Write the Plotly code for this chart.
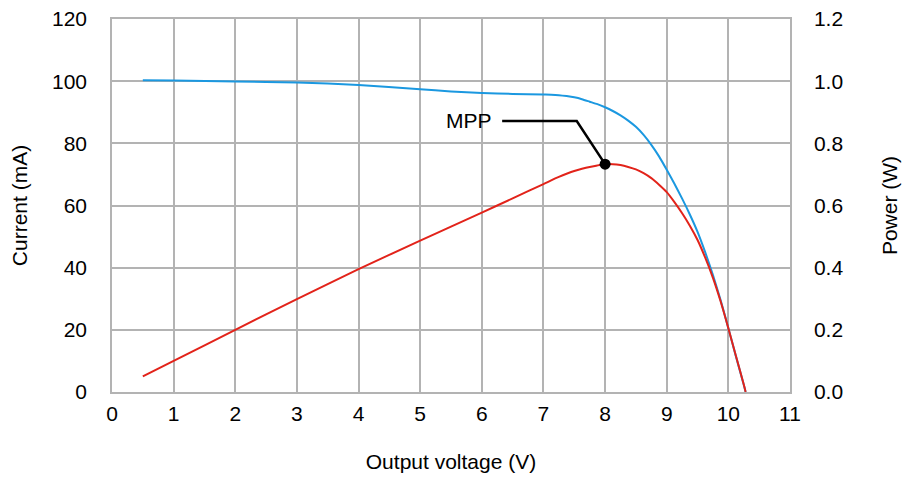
import plotly.graph_objects as go

voltage_v = [0.5, 1, 2, 3, 4, 5, 5.5, 6, 6.5, 7.0, 7.125, 7.25, 7.375, 7.5, 7.625, 7.75, 7.875,
             8.0, 8.125, 8.25, 8.375, 8.5, 8.625, 8.75, 8.875, 9.0, 9.125, 9.25, 9.375,
             9.5, 9.625, 9.75, 9.875, 10.0, 10.125, 10.25, 10.28]
current_ma = [100.3, 100.2, 99.9, 99.6, 98.8, 97.4, 96.7, 96.2, 95.9, 95.7, 95.65, 95.5, 95.2, 94.8, 94.2, 93.4, 92.6,
              91.6, 90.4, 89.0, 87.3, 85.3, 82.7, 79.5, 75.8, 71.5, 67.0, 62.2, 57.1,
              51.5, 44.9, 37.6, 29.5, 20.5, 11.3, 2.3, 0.0]
power_w = [0.050, 0.100, 0.200, 0.299, 0.395, 0.487, 0.532, 0.577, 0.623, 0.669, 0.681, 0.692, 0.702, 0.711, 0.718, 0.724, 0.729,
           0.733, 0.733, 0.730, 0.724, 0.716, 0.704, 0.688, 0.667, 0.643, 0.611, 0.575, 0.535,
           0.489, 0.432, 0.367, 0.291, 0.205, 0.114, 0.024, 0.0]

mpp_v = 8.0
mpp_p = 0.733
mpp_label = "MPP"
label_elbow = [(6.33, 0.872), (7.54, 0.872)]

x_ticks = list(range(0, 12))
y_ticks = [0, 20, 40, 60, 80, 100, 120]
y2_ticks = [0.0, 0.2, 0.4, 0.6, 0.8, 1.0, 1.2]

FONT = "Liberation Sans, Arial, sans-serif"
FS = 21
GRID = "#b3b3b3"

fig = go.Figure()
fig.add_trace(go.Scatter(x=voltage_v, y=current_ma, mode="lines",
                         line=dict(color="#1b98e0", width=2, shape="spline", smoothing=0.6),
                         yaxis="y", showlegend=False))
fig.add_trace(go.Scatter(x=voltage_v, y=power_w, mode="lines",
                         line=dict(color="#e2231a", width=2, shape="spline", smoothing=0.6),
                         yaxis="y2", showlegend=False))
# leader line
fig.add_trace(go.Scatter(x=[label_elbow[0][0], label_elbow[1][0], mpp_v],
                         y=[label_elbow[0][1], label_elbow[1][1], mpp_p],
                         mode="lines", line=dict(color="black", width=2.5),
                         yaxis="y2", showlegend=False, hoverinfo="skip"))
fig.add_trace(go.Scatter(x=[mpp_v], y=[mpp_p], mode="markers",
                         marker=dict(color="black", size=11),
                         yaxis="y2", showlegend=False))

fig.add_annotation(x=label_elbow[0][0], y=label_elbow[0][1], yref="y2", xref="x",
                   text=mpp_label, showarrow=False, xanchor="right", xshift=-8,
                   font=dict(family=FONT, size=FS, color="black"))

# The page body has an 8px default margin, so offset the margins accordingly.
fig.update_layout(
    width=914, height=483,
    margin=dict(l=104, r=132, t=11, b=99),
    paper_bgcolor="white", plot_bgcolor="white",
    font=dict(family=FONT, size=FS, color="black"),
    xaxis=dict(range=[0, 11], tickvals=x_ticks, showgrid=True, gridcolor=GRID, gridwidth=1.5,
               showline=True, linecolor=GRID, linewidth=1.5, mirror=True, zeroline=False,
               ticks="", ticklabelstandoff=2, automargin=False, ticklabeloverflow="allow",
               title=dict(text="Output voltage (V)", standoff=30, font=dict(size=FS))),
    yaxis=dict(range=[0, 120], tickvals=y_ticks, showgrid=True, gridcolor=GRID, gridwidth=1.5,
               showline=True, linecolor=GRID, linewidth=1.5, zeroline=False,
               ticks="", ticklabelstandoff=19, automargin=False, ticklabeloverflow="allow",
               title=dict(text="Current (mA)", standoff=22, font=dict(size=FS))),
    yaxis2=dict(range=[0, 1.2], tickvals=y2_ticks, tickformat=".1f", overlaying="y", side="right",
                showgrid=False, showline=True, linecolor=GRID, linewidth=1.5, zeroline=False,
                ticks="", ticklabelstandoff=18, automargin=False, ticklabeloverflow="allow",
                title=dict(text="Power (W)", standoff=40, font=dict(size=FS))),
)

fig.write_html("out.html")
